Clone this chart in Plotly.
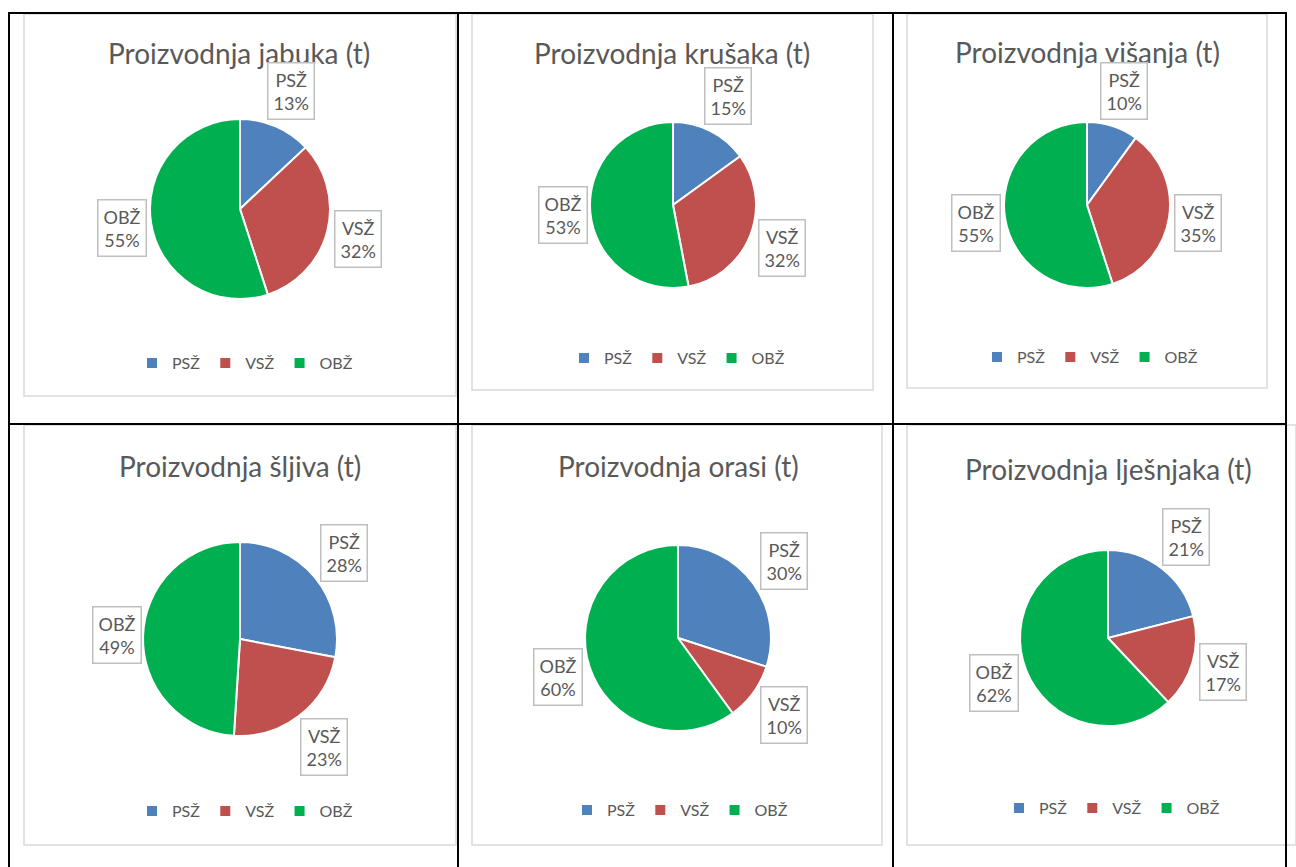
import math
import plotly.graph_objects as go

# podaci (udio u %)
kategorije = ["PSŽ", "VSŽ", "OBŽ"]
boje = ["#4F81BD", "#C0504D", "#00B050"]

naslovi = [
    "Proizvodnja jabuka (t)",
    "Proizvodnja krušaka (t)",
    "Proizvodnja višanja (t)",
    "Proizvodnja šljiva (t)",
    "Proizvodnja orasi (t)",
    "Proizvodnja lješnjaka (t)",
]

jabuka = [13, 32, 55]
krusaka = [15, 32, 53]
visanja = [10, 35, 55]
sljiva = [28, 23, 49]
orasi = [30, 10, 60]
ljesnjaka = [21, 17, 62]

serije = [jabuka, krusaka, visanja, sljiva, orasi, ljesnjaka]

W, H = 1296, 867

# raspored panela u pikselima: centar pite, radijus, naslov, okvir, legenda
paneli = [
    dict(cx=240, cy=209, r=90, ty=53, tx=239, box=(24, 14, 456, 396), ly=363, lx=245),
    dict(cx=673, cy=205, r=83, ty=53, tx=672, box=(472, 14, 873, 390), ly=358, lx=677),
    dict(cx=1087, cy=205, r=83, ty=52, tx=1087, box=(907, 14, 1267, 388), ly=357, lx=1090),
    dict(cx=240, cy=639, r=97, ty=466, tx=240, box=(24, 425, 456, 845), ly=811, lx=245),
    dict(cx=678, cy=638, r=93, ty=466, tx=678, box=(472, 425, 882, 845), ly=810, lx=680),
    dict(cx=1108, cy=638, r=88, ty=469, tx=1108, box=(907, 425, 1296, 845), ly=808, lx=1112),
]

FONT = "Lato, sans-serif"
SIVA = "#595959"


def px(x):
    return x / W


def py(y):
    return 1 - y / H


fig = go.Figure()
shapes = []
annotations = []
legende = {}

for i, (vals, p) in enumerate(zip(serije, paneli)):
    leg = "legend" if i == 0 else f"legend{i + 1}"
    # nevidljivi sufiks da svaka legenda dobije svoje stavke
    oznake = [k + "\u200b" * i for k in kategorije]
    fig.add_trace(go.Pie(
        labels=oznake,
        values=vals,
        sort=False,
        direction="clockwise",
        rotation=0,
        textinfo="none",
        hoverinfo="label+percent",
        marker=dict(colors=boje, line=dict(color="white", width=2)),
        domain=dict(x=[px(p["cx"] - p["r"]), px(p["cx"] + p["r"])],
                    y=[py(p["cy"] + p["r"]), py(p["cy"] - p["r"])]),
        legend=leg,
        showlegend=True,
    ))

    legende[leg] = dict(
        orientation="h", x=px(p["lx"]), y=py(p["ly"]),
        xanchor="center", yanchor="middle",
        font=dict(family=FONT, size=16, color=SIVA),
        bgcolor="rgba(0,0,0,0)", itemwidth=30,
    )

    # okvir grafikona
    x0, y0, x1, y1 = p["box"]
    shapes.append(dict(type="rect", xref="paper", yref="paper",
                       x0=px(x0), x1=px(x1), y0=py(y1), y1=py(y0),
                       line=dict(color="#D9D9D9", width=1.5), layer="below"))

    # naslov
    annotations.append(dict(
        text=naslovi[i], x=px(p["tx"]), y=py(p["ty"]), xref="paper", yref="paper",
        showarrow=False, xanchor="center", yanchor="middle",
        font=dict(family=FONT, size=28, color=SIVA),
    ))

    # oznake podataka izvan kriški
    ukupno = sum(vals)
    kum = 0
    for kat, v in zip(kategorije, vals):
        theta = 2 * math.pi * (kum + v / 2) / ukupno
        kum += v
        dx, dy = math.sin(theta), -math.cos(theta)
        pomak = 22 * abs(dx) + 29 * abs(dy)
        d = p["r"] + pomak + 3
        lx = p["cx"] + d * dx
        ly = p["cy"] + d * dy
        annotations.append(dict(
            text=f"{kat}<br>{round(100 * v / ukupno)}%",
            x=px(lx), y=py(ly), xref="paper", yref="paper",
            showarrow=False, xanchor="center", yanchor="middle",
            font=dict(family=FONT, size=18, color=SIVA),
            bordercolor="#BFBFBF", borderwidth=1.5, borderpad=5, bgcolor="white",
            align="center",
        ))

# linije tablice
crna = dict(color="black", width=2)
for x in [9, 458, 893, 1286]:
    shapes.append(dict(type="line", xref="paper", yref="paper",
                       x0=px(x), x1=px(x), y0=0, y1=py(13), line=crna))
for y in [13, 424]:
    shapes.append(dict(type="line", xref="paper", yref="paper",
                       x0=px(8), x1=px(1287), y0=py(y), y1=py(y), line=crna))

fig.update_layout(
    width=W, height=H,
    margin=dict(l=0, r=0, t=0, b=0),
    paper_bgcolor="white",
    plot_bgcolor="white",
    shapes=shapes,
    annotations=annotations,
    **legende,
)

fig.write_html("out.html", config={"displayModeBar": False},
               post_script="document.body.style.margin='0px';")
